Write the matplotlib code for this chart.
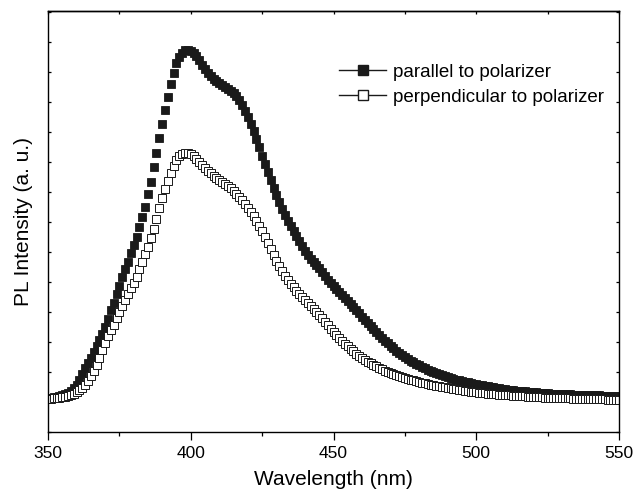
import matplotlib
matplotlib.use("Agg")
import matplotlib.pyplot as plt
from matplotlib.lines import Line2D
import numpy as np

plt.rcParams['font.family'] = ['Liberation Sans', 'DejaVu Sans']

# wavelength grid (nm), 1 nm steps
wavelength = list(range(350, 551))

# PL intensity (a.u.), parallel to polarizer
parallel = [
    34, 34, 34.5, 35, 35.5, 36.5, 37.5, 39, 41, 43.5,
    47, 52, 58, 63.5, 69, 74, 80, 85.5, 91.5, 98,
    105, 113, 122, 129.3, 138, 146, 154.7, 162.7, 170.3, 178.7,
    187, 194.7, 204.7, 214.7, 225.3, 238, 250.3, 264.7, 278.7, 294,
    308, 322, 335, 348, 359, 369, 375, 379, 381.5, 382,
    381, 379, 376, 372, 367, 363, 359, 356, 353, 351,
    349, 347, 345, 343, 341, 339, 336, 332, 327, 321,
    315, 308, 301, 293, 285, 276, 268, 260, 252, 244,
    237, 230, 223, 217, 211, 206, 201, 196, 191, 186,
    181, 177, 173, 170, 167, 164, 160, 156, 152, 149,
    146, 143, 140, 137, 134, 131, 128, 125, 122, 119,
    115, 112, 109, 106, 103, 100, 97, 94, 91, 88.5,
    86, 83.5, 81, 79, 77, 75, 73, 71, 69.5, 68,
    66.5, 65, 63.5, 62, 61, 60, 59, 58, 57, 56,
    55, 54, 53, 52, 51.5, 51, 50, 49.5, 49, 48,
    47.5, 47, 46.5, 46, 45.5, 45, 44.5, 44, 43.5, 43,
    42.7, 42.4, 42, 41.7, 41.4, 41, 40.8, 40.5, 40.2, 40,
    39.7, 39.5, 39.3, 39, 38.8, 38.6, 38.4, 38.2, 38, 37.9,
    37.8, 37.7, 37.6, 37.5, 37.4, 37.3, 37.2, 37.1, 37, 36.9,
    36.8, 36.7, 36.6, 36.5, 36.4, 36.3, 36.2, 36.1, 36, 36,
    36,
]

# PL intensity (a.u.), perpendicular to polarizer
perpendicular = [
    33, 33, 33.5, 33.5, 34, 34.5, 35, 35.5, 36.5, 38,
    39.5, 41.5, 44, 47, 51, 56, 61, 67, 74, 82,
    89, 96, 102, 107, 114, 120, 126, 132, 138, 144,
    149, 155, 163, 170, 178, 185, 194, 203, 213, 224,
    234, 243, 251, 259, 266, 272, 276, 278, 279, 279,
    278, 276, 273, 270, 267, 264, 261, 258.5, 256, 254,
    252, 250, 248, 246, 243.5, 241, 238, 235, 232, 228,
    224, 220, 216, 211, 206, 201, 195, 189, 183, 177,
    171, 166, 161, 156, 152, 148, 144.5, 141, 138, 135,
    132, 129, 126, 123, 120, 117, 113.5, 110, 106.5, 103,
    100, 97, 94, 91, 88, 85.5, 83, 80.5, 78, 76,
    74, 72, 70, 68.5, 67, 65.5, 64, 62.5, 61, 60,
    59, 58, 57, 56, 55, 54, 53.2, 52.4, 51.6, 50.8,
    50, 49.3, 48.6, 48, 47.4, 46.8, 46.2, 45.6, 45, 44.5,
    44, 43.5, 43, 42.5, 42, 41.6, 41.2, 40.8, 40.4, 40,
    39.6, 39.3, 39, 38.7, 38.4, 38.1, 37.8, 37.5, 37.3, 37.1,
    36.9, 36.7, 36.5, 36.3, 36.1, 35.9, 35.7, 35.5, 35.3, 35.1,
    35, 34.8, 34.7, 34.5, 34.4, 34.3, 34.2, 34.1, 34, 33.9,
    33.8, 33.7, 33.6, 33.5, 33.4, 33.3, 33.2, 33.1, 33, 33,
    32.9, 32.8, 32.7, 32.6, 32.5, 32.5, 32.4, 32.3, 32.2, 32.2,
    32.2,
]

labels = ['parallel to polarizer', 'perpendicular to polarizer']

fig = plt.figure(figsize=(6.35, 4.94), dpi=100)
ax = fig.add_axes([0.0756, 0.1255, 0.8992, 0.8528])

ms = 5.8
ax.plot(wavelength, parallel, ls='none', marker='s', ms=ms,
        mfc='#1a1a1a', mec='#1a1a1a', mew=0.6)
ax.plot(wavelength, perpendicular, ls='none', marker='s', ms=ms,
        mfc='white', mec='#1a1a1a', mew=0.7)

ax.set_xlim(350, 550)
ax.set_ylim(0, 421)
ax.set_xticks([350, 400, 450, 500, 550])
ax.set_xticks([375, 425, 475, 525], minor=True)
ax.set_yticks(np.arange(0, 421, 30))
ax.set_yticklabels([])

ax.tick_params(axis='x', which='major', direction='out', length=5.8, width=0.9,
               labelsize=12.5, pad=4, top=False)
ax.tick_params(axis='x', which='minor', direction='out', length=3, width=0.9, top=False)
ax.tick_params(axis='y', direction='in', length=2.2, width=0.9, right=True)

# short inward ticks along the top spine
top = ax.secondary_xaxis('top')
top.set_xticks([350, 375, 400, 425, 450, 475, 500, 525, 550])
top.set_xticklabels([])
top.tick_params(direction='in', length=2, width=0.9)
top.spines['top'].set_linewidth(1.0)

for s in ax.spines.values():
    s.set_linewidth(1.0)

ax.set_xlabel('Wavelength (nm)', fontsize=15, labelpad=7)
ax.set_ylabel('PL Intensity (a. u.)', fontsize=15, labelpad=7)

handles = [
    Line2D([], [], color='#1a1a1a', lw=1, marker='s', ms=6.5, mfc='#1a1a1a', mec='#1a1a1a'),
    Line2D([], [], color='#1a1a1a', lw=1, marker='s', ms=6.5, mfc='white', mec='#1a1a1a'),
]
ax.legend(handles, labels, loc='upper left', bbox_to_anchor=(0.51, 0.875),
          frameon=False, fontsize=13.5, handlelength=2.5, handletextpad=0.35,
          labelspacing=0.42, borderpad=0, borderaxespad=0, numpoints=1)

fig.savefig('out.png', dpi=100)
